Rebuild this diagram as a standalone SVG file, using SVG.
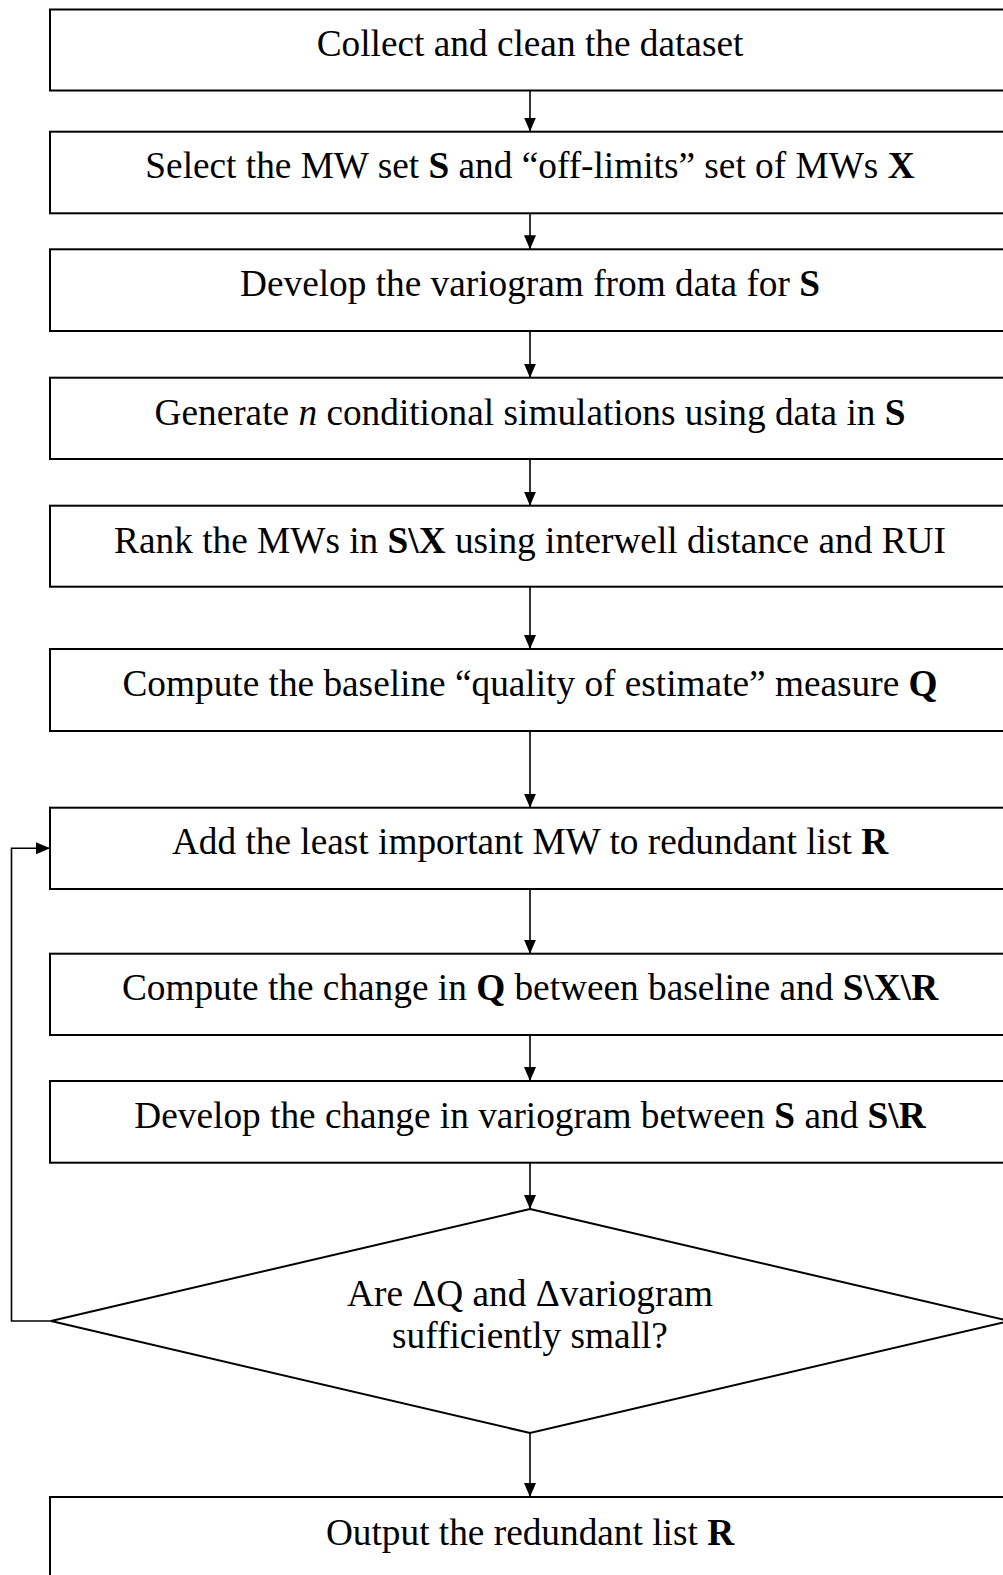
<svg xmlns="http://www.w3.org/2000/svg" width="1003" height="1575" viewBox="0 0 1003 1575">
<style>
.box{fill:#fff;stroke:#000;stroke-width:2}
.t{font-family:"Liberation Serif","Times New Roman",serif;font-size:37.3px;fill:#000;text-anchor:middle}
.b{font-weight:bold}
.i{font-style:italic}
.c{fill:none;stroke:#000;stroke-width:1.6}
</style>
<defs>
<marker id="ah" markerWidth="14" markerHeight="12" refX="14" refY="6" orient="auto" markerUnits="userSpaceOnUse">
<path d="M0,0 L14,6 L0,12 Z" fill="#000"/>
</marker>
</defs>
<rect width="1003" height="1575" fill="#fff"/>
<g id="connectors">
<line class="c" x1="530" y1="90.5" x2="530" y2="131.5" marker-end="url(#ah)"/>
<line class="c" x1="530" y1="213.3" x2="530" y2="249.3" marker-end="url(#ah)"/>
<line class="c" x1="530" y1="331" x2="530" y2="377.7" marker-end="url(#ah)"/>
<line class="c" x1="530" y1="459" x2="530" y2="505.7" marker-end="url(#ah)"/>
<line class="c" x1="530" y1="586.7" x2="530" y2="649" marker-end="url(#ah)"/>
<line class="c" x1="530" y1="731" x2="530" y2="807.7" marker-end="url(#ah)"/>
<line class="c" x1="530" y1="889" x2="530" y2="953.7" marker-end="url(#ah)"/>
<line class="c" x1="530" y1="1035" x2="530" y2="1081" marker-end="url(#ah)"/>
<line class="c" x1="530" y1="1162.7" x2="530" y2="1209" marker-end="url(#ah)"/>
<line class="c" x1="530" y1="1433" x2="530" y2="1497" marker-end="url(#ah)"/>
<polyline class="c" points="51,1321 11.5,1321 11.5,848.3 50,848.3" marker-end="url(#ah)"/>
</g>
<g id="n1"><rect class="box" x="50" y="9.5" width="960" height="81"/>
<text class="t" x="530" y="56">Collect and clean the dataset</text></g>
<g id="n2"><rect class="box" x="50" y="131.7" width="960" height="81.6"/>
<text class="t" x="530" y="178">Select the MW set <tspan class="b">S</tspan> and “off-limits” set of MWs <tspan class="b">X</tspan></text></g>
<g id="n3"><rect class="box" x="50" y="249.3" width="960" height="81.7"/>
<text class="t" x="530" y="295.8">Develop the variogram from data for <tspan class="b">S</tspan></text></g>
<g id="n4"><rect class="box" x="50" y="377.7" width="960" height="81.3"/>
<text class="t" x="530" y="424.5">Generate <tspan class="i">n</tspan> conditional simulations using data in <tspan class="b">S</tspan></text></g>
<g id="n5"><rect class="box" x="50" y="505.7" width="960" height="81"/>
<text class="t" x="530" y="552.5">Rank the MWs in <tspan class="b">S\X</tspan> using interwell distance and RUI</text></g>
<g id="n6"><rect class="box" x="50" y="649" width="960" height="82"/>
<text class="t" x="530" y="696">Compute the baseline “quality of estimate” measure <tspan class="b">Q</tspan></text></g>
<g id="n7"><rect class="box" x="50" y="807.7" width="960" height="81.3"/>
<text class="t" x="530" y="854">Add the least important MW to redundant list <tspan class="b">R</tspan></text></g>
<g id="n8"><rect class="box" x="50" y="953.7" width="960" height="81.3"/>
<text class="t" x="530" y="1000.2">Compute the change in <tspan class="b">Q</tspan> between baseline and <tspan class="b">S\X\R</tspan></text></g>
<g id="n9"><rect class="box" x="50" y="1081" width="960" height="81.7"/>
<text class="t" x="530" y="1127.5">Develop the change in variogram between <tspan class="b">S</tspan> and <tspan class="b">S\R</tspan></text></g>
<g id="n10"><polygon class="box" points="530,1209 1009,1321 530,1433 51,1321"/>
<text class="t" x="530" y="1305.5">Are ΔQ and Δvariogram</text>
<text class="t" x="530" y="1347.5">sufficiently small?</text></g>
<g id="n11"><rect class="box" x="50" y="1497" width="960" height="85"/>
<text class="t" x="530" y="1544.5">Output the redundant list <tspan class="b">R</tspan></text></g>
</svg>
